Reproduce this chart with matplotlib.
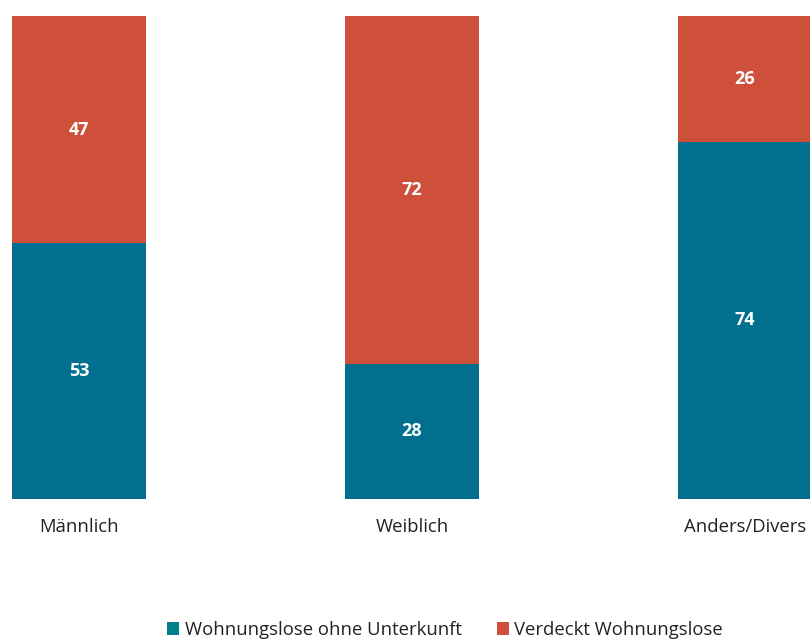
import matplotlib.pyplot as plt
from matplotlib.patches import Patch
import numpy as np

categories = ["Männlich", "Weiblich", "Anders/Divers"]
ohne_unterkunft = [53, 28, 74]
verdeckt = [47, 72, 26]
series_names = ["Wohnungslose ohne Unterkunft", "Verdeckt Wohnungslose"]

teal = "#036F8F"
red = "#CF503A"
legend_teal = "#00808A"

plt.rcParams["font.family"] = ["Open Sans", "DejaVu Sans"]

fig = plt.figure(figsize=(8.10, 6.39), dpi=100)
ax = fig.add_axes([0, 140 / 639, 1, 483 / 639])

x = np.arange(len(categories))
w = 0.403
ax.bar(x, ohne_unterkunft, width=w, color=teal)
ax.bar(x, verdeckt, width=w, bottom=ohne_unterkunft, color=red)

for i in range(len(categories)):
    ax.text(x[i], ohne_unterkunft[i] / 2, str(ohne_unterkunft[i]), ha="center", va="center",
            color="white", fontsize=13, fontweight="bold")
    ax.text(x[i], ohne_unterkunft[i] + verdeckt[i] / 2, str(verdeckt[i]), ha="center",
            va="center", color="white", fontsize=13, fontweight="bold")

ax.set_xlim(-79 / 333, 731 / 333)
ax.set_ylim(0, 100)
ax.axis("off")

for i, c in enumerate(categories):
    fig.text((79 + 333 * i) / 810, 1 - 527 / 639, c, ha="center", va="center",
             fontsize=13.3, color="#222222")

handles = [Patch(facecolor=legend_teal), Patch(facecolor=red)]
fig.legend(handles, series_names, loc="center", bbox_to_anchor=(445 / 810, 1 - 630 / 639),
           ncol=2, frameon=False, fontsize=13.3, handlelength=0.65, handleheight=0.65,
           handletextpad=0.3, columnspacing=1.9, labelcolor="#222222")

fig.savefig("out.png", dpi=100)
